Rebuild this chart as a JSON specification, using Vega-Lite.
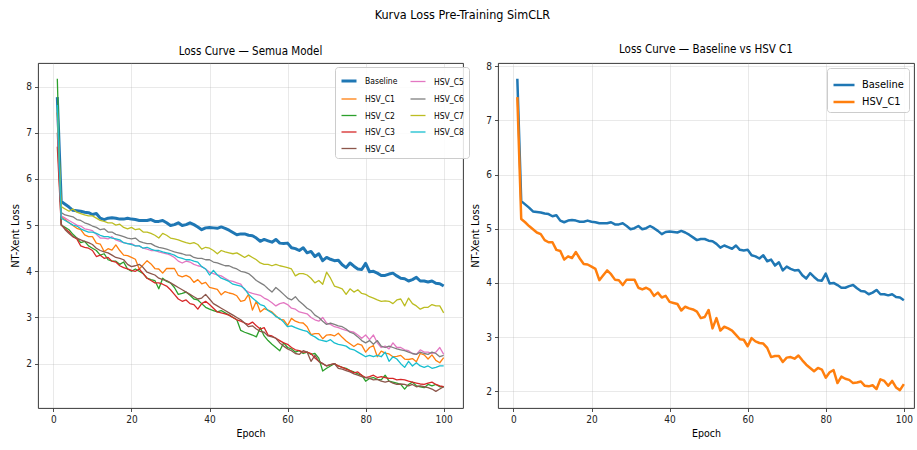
{
  "$schema": "https://vega.github.io/schema/vega-lite/v6.json",
  "padding": {"left": 10, "top": 8, "right": 0, "bottom": 2},
  "title": {"text": "Kurva Loss Pre-Training SimCLR", "fontSize": 12.5, "fontWeight": "normal", "anchor": "middle", "offset": 22, "color": "#000"},
  "bounds": "flush",
  "spacing": 35,
  "resolve": {"scale": {"color": "independent", "strokeWidth": "independent"}, "legend": {"color": "independent", "strokeWidth": "independent"}},
  "config": {
    "font": "DejaVu Sans Condensed, Liberation Sans Narrow, DejaVu Sans",
    "view": {"stroke": "#222", "strokeWidth": 0.9},
    "axis": {"labelFontSize": 10, "labelColor": "#222", "tickColor": "#222", "tickSize": 3.5, "tickWidth": 0.8, "domain": false, "gridColor": "#b0b0b0", "gridOpacity": 0.35, "gridWidth": 0.8, "titleFontSize": 10.5, "titleFontWeight": "normal", "titleColor": "#000", "labelPadding": 3},
    "axisY": {"titleFont": "DejaVu Sans", "titleFontSize": 10, "titlePadding": 5},
    "axisX": {"titlePadding": 4},
    "title": {"fontSize": 11.5, "fontWeight": "normal", "color": "#000", "offset": 6}
  },
  "datasets": {
    "loss": [
      {"epoch":1,"Baseline":7.77,"HSV_C1":7.43,"HSV_C2":8.17,"HSV_C3":6.70,"HSV_C4":7.00,"HSV_C5":7.30,"HSV_C6":7.45,"HSV_C7":7.55,"HSV_C8":7.60},
      {"epoch":2,"Baseline":5.51,"HSV_C1":5.18,"HSV_C2":5.00,"HSV_C3":5.00,"HSV_C4":5.02,"HSV_C5":5.20,"HSV_C6":5.27,"HSV_C7":5.40,"HSV_C8":5.15},
      {"epoch":3,"Baseline":5.45,"HSV_C1":5.12,"HSV_C2":4.95,"HSV_C3":4.92,"HSV_C4":4.90,"HSV_C5":5.15,"HSV_C6":5.22,"HSV_C7":5.35,"HSV_C8":5.10},
      {"epoch":4,"Baseline":5.39,"HSV_C1":5.05,"HSV_C2":4.90,"HSV_C3":4.85,"HSV_C4":4.82,"HSV_C5":5.10,"HSV_C6":5.20,"HSV_C7":5.30,"HSV_C8":5.05},
      {"epoch":5,"Baseline":5.32,"HSV_C1":4.99,"HSV_C2":4.80,"HSV_C3":4.75,"HSV_C4":4.75,"HSV_C5":5.05,"HSV_C6":5.18,"HSV_C7":5.35,"HSV_C8":5.00},
      {"epoch":6,"Baseline":5.31,"HSV_C1":4.93,"HSV_C2":4.72,"HSV_C3":4.70,"HSV_C4":4.72,"HSV_C5":5.00,"HSV_C6":5.12,"HSV_C7":5.28,"HSV_C8":4.98},
      {"epoch":7,"Baseline":5.30,"HSV_C1":4.90,"HSV_C2":4.62,"HSV_C3":4.55,"HSV_C4":4.68,"HSV_C5":4.98,"HSV_C6":5.10,"HSV_C7":5.25,"HSV_C8":4.92},
      {"epoch":8,"Baseline":5.28,"HSV_C1":4.79,"HSV_C2":4.65,"HSV_C3":4.52,"HSV_C4":4.65,"HSV_C5":4.92,"HSV_C6":5.05,"HSV_C7":5.22,"HSV_C8":4.88},
      {"epoch":9,"Baseline":5.27,"HSV_C1":4.75,"HSV_C2":4.55,"HSV_C3":4.50,"HSV_C4":4.62,"HSV_C5":4.90,"HSV_C6":5.02,"HSV_C7":5.20,"HSV_C8":4.85},
      {"epoch":10,"Baseline":5.23,"HSV_C1":4.75,"HSV_C2":4.50,"HSV_C3":4.45,"HSV_C4":4.58,"HSV_C5":4.88,"HSV_C6":4.98,"HSV_C7":5.20,"HSV_C8":4.85},
      {"epoch":11,"Baseline":5.25,"HSV_C1":4.61,"HSV_C2":4.45,"HSV_C3":4.32,"HSV_C4":4.50,"HSV_C5":4.80,"HSV_C6":4.95,"HSV_C7":5.15,"HSV_C8":4.82},
      {"epoch":12,"Baseline":5.15,"HSV_C1":4.59,"HSV_C2":4.35,"HSV_C3":4.35,"HSV_C4":4.45,"HSV_C5":4.72,"HSV_C6":4.90,"HSV_C7":5.10,"HSV_C8":4.78},
      {"epoch":13,"Baseline":5.12,"HSV_C1":4.43,"HSV_C2":4.38,"HSV_C3":4.28,"HSV_C4":4.42,"HSV_C5":4.72,"HSV_C6":4.92,"HSV_C7":5.08,"HSV_C8":4.75},
      {"epoch":14,"Baseline":5.15,"HSV_C1":4.49,"HSV_C2":4.25,"HSV_C3":4.30,"HSV_C4":4.40,"HSV_C5":4.70,"HSV_C6":4.85,"HSV_C7":5.05,"HSV_C8":4.75},
      {"epoch":15,"Baseline":5.16,"HSV_C1":4.46,"HSV_C2":4.22,"HSV_C3":4.22,"HSV_C4":4.35,"HSV_C5":4.75,"HSV_C6":4.85,"HSV_C7":5.05,"HSV_C8":4.72},
      {"epoch":16,"Baseline":5.15,"HSV_C1":4.57,"HSV_C2":4.22,"HSV_C3":4.20,"HSV_C4":4.30,"HSV_C5":4.68,"HSV_C6":4.80,"HSV_C7":5.00,"HSV_C8":4.70},
      {"epoch":17,"Baseline":5.13,"HSV_C1":4.45,"HSV_C2":4.15,"HSV_C3":4.12,"HSV_C4":4.28,"HSV_C5":4.65,"HSV_C6":4.78,"HSV_C7":5.02,"HSV_C8":4.68},
      {"epoch":18,"Baseline":5.13,"HSV_C1":4.35,"HSV_C2":4.20,"HSV_C3":4.08,"HSV_C4":4.25,"HSV_C5":4.62,"HSV_C6":4.75,"HSV_C7":4.95,"HSV_C8":4.62},
      {"epoch":19,"Baseline":5.15,"HSV_C1":4.34,"HSV_C2":4.05,"HSV_C3":4.05,"HSV_C4":4.15,"HSV_C5":4.60,"HSV_C6":4.72,"HSV_C7":4.92,"HSV_C8":4.60},
      {"epoch":20,"Baseline":5.13,"HSV_C1":4.30,"HSV_C2":4.00,"HSV_C3":4.02,"HSV_C4":4.10,"HSV_C5":4.60,"HSV_C6":4.70,"HSV_C7":4.95,"HSV_C8":4.58},
      {"epoch":21,"Baseline":5.12,"HSV_C1":4.26,"HSV_C2":4.05,"HSV_C3":4.00,"HSV_C4":4.12,"HSV_C5":4.55,"HSV_C6":4.72,"HSV_C7":4.90,"HSV_C8":4.55},
      {"epoch":22,"Baseline":5.10,"HSV_C1":4.05,"HSV_C2":4.00,"HSV_C3":4.05,"HSV_C4":4.15,"HSV_C5":4.55,"HSV_C6":4.65,"HSV_C7":4.92,"HSV_C8":4.55},
      {"epoch":23,"Baseline":5.10,"HSV_C1":4.14,"HSV_C2":3.95,"HSV_C3":3.95,"HSV_C4":4.08,"HSV_C5":4.50,"HSV_C6":4.62,"HSV_C7":4.85,"HSV_C8":4.50},
      {"epoch":24,"Baseline":5.10,"HSV_C1":4.23,"HSV_C2":3.85,"HSV_C3":3.85,"HSV_C4":3.98,"HSV_C5":4.48,"HSV_C6":4.60,"HSV_C7":4.85,"HSV_C8":4.52},
      {"epoch":25,"Baseline":5.12,"HSV_C1":4.16,"HSV_C2":3.82,"HSV_C3":3.80,"HSV_C4":3.95,"HSV_C5":4.45,"HSV_C6":4.60,"HSV_C7":4.82,"HSV_C8":4.48},
      {"epoch":26,"Baseline":5.08,"HSV_C1":4.06,"HSV_C2":3.80,"HSV_C3":3.75,"HSV_C4":3.92,"HSV_C5":4.45,"HSV_C6":4.55,"HSV_C7":4.78,"HSV_C8":4.45},
      {"epoch":27,"Baseline":5.08,"HSV_C1":4.05,"HSV_C2":3.62,"HSV_C3":3.75,"HSV_C4":3.85,"HSV_C5":4.42,"HSV_C6":4.52,"HSV_C7":4.72,"HSV_C8":4.45},
      {"epoch":28,"Baseline":5.10,"HSV_C1":3.96,"HSV_C2":3.85,"HSV_C3":3.72,"HSV_C4":3.82,"HSV_C5":4.40,"HSV_C6":4.50,"HSV_C7":4.82,"HSV_C8":4.42},
      {"epoch":29,"Baseline":5.05,"HSV_C1":4.06,"HSV_C2":3.78,"HSV_C3":3.68,"HSV_C4":3.80,"HSV_C5":4.38,"HSV_C6":4.48,"HSV_C7":4.78,"HSV_C8":4.40},
      {"epoch":30,"Baseline":4.99,"HSV_C1":4.06,"HSV_C2":3.75,"HSV_C3":3.60,"HSV_C4":3.75,"HSV_C5":4.35,"HSV_C6":4.45,"HSV_C7":4.72,"HSV_C8":4.38},
      {"epoch":31,"Baseline":5.01,"HSV_C1":4.06,"HSV_C2":3.65,"HSV_C3":3.50,"HSV_C4":3.70,"HSV_C5":4.30,"HSV_C6":4.42,"HSV_C7":4.70,"HSV_C8":4.35},
      {"epoch":32,"Baseline":5.05,"HSV_C1":3.91,"HSV_C2":3.50,"HSV_C3":3.40,"HSV_C4":3.65,"HSV_C5":4.22,"HSV_C6":4.40,"HSV_C7":4.68,"HSV_C8":4.30},
      {"epoch":33,"Baseline":4.99,"HSV_C1":3.88,"HSV_C2":3.52,"HSV_C3":3.35,"HSV_C4":3.60,"HSV_C5":4.18,"HSV_C6":4.38,"HSV_C7":4.65,"HSV_C8":4.28},
      {"epoch":34,"Baseline":5.01,"HSV_C1":3.91,"HSV_C2":3.55,"HSV_C3":3.38,"HSV_C4":3.55,"HSV_C5":4.22,"HSV_C6":4.35,"HSV_C7":4.62,"HSV_C8":4.25},
      {"epoch":35,"Baseline":5.05,"HSV_C1":3.87,"HSV_C2":3.48,"HSV_C3":3.30,"HSV_C4":3.50,"HSV_C5":4.20,"HSV_C6":4.35,"HSV_C7":4.60,"HSV_C8":4.25},
      {"epoch":36,"Baseline":5.01,"HSV_C1":3.76,"HSV_C2":3.40,"HSV_C3":3.28,"HSV_C4":3.45,"HSV_C5":4.15,"HSV_C6":4.30,"HSV_C7":4.62,"HSV_C8":4.22},
      {"epoch":37,"Baseline":4.96,"HSV_C1":3.82,"HSV_C2":3.38,"HSV_C3":3.18,"HSV_C4":3.40,"HSV_C5":4.12,"HSV_C6":4.28,"HSV_C7":4.58,"HSV_C8":4.20},
      {"epoch":38,"Baseline":4.90,"HSV_C1":3.73,"HSV_C2":3.30,"HSV_C3":3.30,"HSV_C4":3.42,"HSV_C5":4.10,"HSV_C6":4.28,"HSV_C7":4.48,"HSV_C8":4.10},
      {"epoch":39,"Baseline":4.94,"HSV_C1":3.76,"HSV_C2":3.22,"HSV_C3":3.35,"HSV_C4":3.50,"HSV_C5":4.05,"HSV_C6":4.25,"HSV_C7":4.52,"HSV_C8":4.05},
      {"epoch":40,"Baseline":4.95,"HSV_C1":3.65,"HSV_C2":3.18,"HSV_C3":3.28,"HSV_C4":3.40,"HSV_C5":3.98,"HSV_C6":4.25,"HSV_C7":4.50,"HSV_C8":3.92},
      {"epoch":41,"Baseline":4.94,"HSV_C1":3.63,"HSV_C2":3.15,"HSV_C3":3.20,"HSV_C4":3.30,"HSV_C5":3.95,"HSV_C6":4.20,"HSV_C7":4.45,"HSV_C8":4.02},
      {"epoch":42,"Baseline":4.93,"HSV_C1":3.61,"HSV_C2":3.12,"HSV_C3":3.12,"HSV_C4":3.25,"HSV_C5":3.92,"HSV_C6":4.18,"HSV_C7":4.38,"HSV_C8":3.92},
      {"epoch":43,"Baseline":4.96,"HSV_C1":3.49,"HSV_C2":3.15,"HSV_C3":3.10,"HSV_C4":3.20,"HSV_C5":3.90,"HSV_C6":4.15,"HSV_C7":4.45,"HSV_C8":3.85},
      {"epoch":44,"Baseline":4.93,"HSV_C1":3.56,"HSV_C2":3.10,"HSV_C3":3.08,"HSV_C4":3.15,"HSV_C5":3.85,"HSV_C6":4.12,"HSV_C7":4.42,"HSV_C8":3.82},
      {"epoch":45,"Baseline":4.89,"HSV_C1":3.53,"HSV_C2":3.05,"HSV_C3":3.05,"HSV_C4":3.10,"HSV_C5":3.80,"HSV_C6":4.12,"HSV_C7":4.40,"HSV_C8":3.78},
      {"epoch":46,"Baseline":4.84,"HSV_C1":3.51,"HSV_C2":3.00,"HSV_C3":3.00,"HSV_C4":3.05,"HSV_C5":3.78,"HSV_C6":4.08,"HSV_C7":4.38,"HSV_C8":3.72},
      {"epoch":47,"Baseline":4.79,"HSV_C1":3.47,"HSV_C2":2.95,"HSV_C3":2.95,"HSV_C4":3.00,"HSV_C5":3.75,"HSV_C6":4.05,"HSV_C7":4.40,"HSV_C8":3.70},
      {"epoch":48,"Baseline":4.81,"HSV_C1":3.35,"HSV_C2":2.72,"HSV_C3":2.92,"HSV_C4":2.95,"HSV_C5":3.72,"HSV_C6":4.00,"HSV_C7":4.35,"HSV_C8":3.68},
      {"epoch":49,"Baseline":4.81,"HSV_C1":3.37,"HSV_C2":2.68,"HSV_C3":2.88,"HSV_C4":2.88,"HSV_C5":3.60,"HSV_C6":3.98,"HSV_C7":4.30,"HSV_C8":3.62},
      {"epoch":50,"Baseline":4.78,"HSV_C1":3.50,"HSV_C2":2.65,"HSV_C3":2.85,"HSV_C4":2.80,"HSV_C5":3.55,"HSV_C6":3.95,"HSV_C7":4.35,"HSV_C8":3.50},
      {"epoch":51,"Baseline":4.77,"HSV_C1":3.16,"HSV_C2":2.62,"HSV_C3":2.90,"HSV_C4":2.82,"HSV_C5":3.52,"HSV_C6":3.88,"HSV_C7":4.30,"HSV_C8":3.42},
      {"epoch":52,"Baseline":4.72,"HSV_C1":3.35,"HSV_C2":2.58,"HSV_C3":2.82,"HSV_C4":2.75,"HSV_C5":3.50,"HSV_C6":3.80,"HSV_C7":4.25,"HSV_C8":3.35},
      {"epoch":53,"Baseline":4.65,"HSV_C1":3.12,"HSV_C2":2.78,"HSV_C3":2.75,"HSV_C4":2.70,"HSV_C5":3.48,"HSV_C6":3.75,"HSV_C7":4.18,"HSV_C8":3.28},
      {"epoch":54,"Baseline":4.69,"HSV_C1":3.19,"HSV_C2":2.60,"HSV_C3":2.78,"HSV_C4":2.68,"HSV_C5":3.42,"HSV_C6":3.70,"HSV_C7":4.15,"HSV_C8":3.25},
      {"epoch":55,"Baseline":4.66,"HSV_C1":3.16,"HSV_C2":2.50,"HSV_C3":2.62,"HSV_C4":2.60,"HSV_C5":3.38,"HSV_C6":3.62,"HSV_C7":4.15,"HSV_C8":3.15},
      {"epoch":56,"Baseline":4.63,"HSV_C1":3.12,"HSV_C2":2.42,"HSV_C3":2.60,"HSV_C4":2.58,"HSV_C5":3.32,"HSV_C6":3.55,"HSV_C7":4.12,"HSV_C8":3.10},
      {"epoch":57,"Baseline":4.69,"HSV_C1":3.04,"HSV_C2":2.35,"HSV_C3":2.55,"HSV_C4":2.55,"HSV_C5":3.25,"HSV_C6":3.65,"HSV_C7":4.15,"HSV_C8":3.02},
      {"epoch":58,"Baseline":4.61,"HSV_C1":2.96,"HSV_C2":2.28,"HSV_C3":2.50,"HSV_C4":2.45,"HSV_C5":3.30,"HSV_C6":3.58,"HSV_C7":4.12,"HSV_C8":2.98},
      {"epoch":59,"Baseline":4.60,"HSV_C1":2.95,"HSV_C2":2.45,"HSV_C3":2.45,"HSV_C4":2.38,"HSV_C5":3.32,"HSV_C6":3.50,"HSV_C7":4.10,"HSV_C8":2.90},
      {"epoch":60,"Baseline":4.61,"HSV_C1":2.83,"HSV_C2":2.35,"HSV_C3":2.42,"HSV_C4":2.32,"HSV_C5":3.28,"HSV_C6":3.42,"HSV_C7":4.08,"HSV_C8":2.80},
      {"epoch":61,"Baseline":4.51,"HSV_C1":2.98,"HSV_C2":2.32,"HSV_C3":2.35,"HSV_C4":2.28,"HSV_C5":3.20,"HSV_C6":3.38,"HSV_C7":4.05,"HSV_C8":2.82},
      {"epoch":62,"Baseline":4.49,"HSV_C1":2.92,"HSV_C2":2.25,"HSV_C3":2.30,"HSV_C4":2.22,"HSV_C5":3.18,"HSV_C6":3.45,"HSV_C7":3.90,"HSV_C8":2.78},
      {"epoch":63,"Baseline":4.45,"HSV_C1":2.89,"HSV_C2":2.28,"HSV_C3":2.28,"HSV_C4":2.20,"HSV_C5":3.12,"HSV_C6":3.35,"HSV_C7":3.95,"HSV_C8":2.75},
      {"epoch":64,"Baseline":4.51,"HSV_C1":2.88,"HSV_C2":2.22,"HSV_C3":2.25,"HSV_C4":2.28,"HSV_C5":3.10,"HSV_C6":3.28,"HSV_C7":3.95,"HSV_C8":2.72},
      {"epoch":65,"Baseline":4.40,"HSV_C1":2.80,"HSV_C2":2.25,"HSV_C3":2.25,"HSV_C4":2.25,"HSV_C5":3.08,"HSV_C6":3.20,"HSV_C7":3.92,"HSV_C8":2.70},
      {"epoch":66,"Baseline":4.43,"HSV_C1":2.63,"HSV_C2":2.20,"HSV_C3":2.22,"HSV_C4":2.05,"HSV_C5":3.00,"HSV_C6":3.15,"HSV_C7":3.85,"HSV_C8":2.62},
      {"epoch":67,"Baseline":4.32,"HSV_C1":2.65,"HSV_C2":2.22,"HSV_C3":2.12,"HSV_C4":2.18,"HSV_C5":2.95,"HSV_C6":3.05,"HSV_C7":3.75,"HSV_C8":2.58},
      {"epoch":68,"Baseline":4.38,"HSV_C1":2.65,"HSV_C2":2.12,"HSV_C3":2.05,"HSV_C4":2.05,"HSV_C5":2.92,"HSV_C6":3.00,"HSV_C7":3.80,"HSV_C8":2.52},
      {"epoch":69,"Baseline":4.23,"HSV_C1":2.54,"HSV_C2":1.84,"HSV_C3":2.00,"HSV_C4":2.00,"HSV_C5":3.00,"HSV_C6":2.92,"HSV_C7":3.72,"HSV_C8":2.50},
      {"epoch":70,"Baseline":4.30,"HSV_C1":2.62,"HSV_C2":1.90,"HSV_C3":1.95,"HSV_C4":1.95,"HSV_C5":2.88,"HSV_C6":2.85,"HSV_C7":3.98,"HSV_C8":2.48},
      {"epoch":71,"Baseline":4.26,"HSV_C1":2.63,"HSV_C2":1.95,"HSV_C3":1.98,"HSV_C4":1.98,"HSV_C5":2.85,"HSV_C6":2.88,"HSV_C7":3.85,"HSV_C8":2.52},
      {"epoch":72,"Baseline":4.23,"HSV_C1":2.60,"HSV_C2":2.00,"HSV_C3":2.00,"HSV_C4":2.00,"HSV_C5":2.80,"HSV_C6":2.85,"HSV_C7":3.68,"HSV_C8":2.45},
      {"epoch":73,"Baseline":4.24,"HSV_C1":2.66,"HSV_C2":1.95,"HSV_C3":1.95,"HSV_C4":1.90,"HSV_C5":2.78,"HSV_C6":2.82,"HSV_C7":3.65,"HSV_C8":2.42},
      {"epoch":74,"Baseline":4.14,"HSV_C1":2.57,"HSV_C2":1.92,"HSV_C3":1.92,"HSV_C4":1.88,"HSV_C5":2.75,"HSV_C6":2.80,"HSV_C7":3.62,"HSV_C8":2.40},
      {"epoch":75,"Baseline":4.08,"HSV_C1":2.49,"HSV_C2":1.90,"HSV_C3":1.88,"HSV_C4":1.85,"HSV_C5":2.72,"HSV_C6":2.75,"HSV_C7":3.50,"HSV_C8":2.38},
      {"epoch":76,"Baseline":4.18,"HSV_C1":2.43,"HSV_C2":1.85,"HSV_C3":1.85,"HSV_C4":1.82,"HSV_C5":2.70,"HSV_C6":2.68,"HSV_C7":3.62,"HSV_C8":2.32},
      {"epoch":77,"Baseline":4.11,"HSV_C1":2.37,"HSV_C2":1.82,"HSV_C3":1.80,"HSV_C4":1.78,"HSV_C5":2.68,"HSV_C6":2.65,"HSV_C7":3.55,"HSV_C8":2.30},
      {"epoch":78,"Baseline":4.05,"HSV_C1":2.43,"HSV_C2":1.78,"HSV_C3":1.82,"HSV_C4":1.75,"HSV_C5":2.62,"HSV_C6":2.58,"HSV_C7":3.60,"HSV_C8":2.25},
      {"epoch":79,"Baseline":4.04,"HSV_C1":2.40,"HSV_C2":1.75,"HSV_C3":1.75,"HSV_C4":1.72,"HSV_C5":2.55,"HSV_C6":2.50,"HSV_C7":3.52,"HSV_C8":2.20},
      {"epoch":80,"Baseline":4.17,"HSV_C1":2.25,"HSV_C2":1.62,"HSV_C3":1.70,"HSV_C4":1.70,"HSV_C5":2.62,"HSV_C6":2.45,"HSV_C7":3.50,"HSV_C8":2.15},
      {"epoch":81,"Baseline":3.99,"HSV_C1":2.35,"HSV_C2":1.68,"HSV_C3":1.72,"HSV_C4":1.68,"HSV_C5":2.52,"HSV_C6":2.50,"HSV_C7":3.45,"HSV_C8":2.18},
      {"epoch":82,"Baseline":4.00,"HSV_C1":2.39,"HSV_C2":1.70,"HSV_C3":1.75,"HSV_C4":1.65,"HSV_C5":2.62,"HSV_C6":2.42,"HSV_C7":3.42,"HSV_C8":2.15},
      {"epoch":83,"Baseline":3.96,"HSV_C1":2.15,"HSV_C2":1.66,"HSV_C3":1.70,"HSV_C4":1.66,"HSV_C5":2.45,"HSV_C6":2.50,"HSV_C7":3.38,"HSV_C8":2.18},
      {"epoch":84,"Baseline":3.91,"HSV_C1":2.27,"HSV_C2":1.65,"HSV_C3":1.72,"HSV_C4":1.62,"HSV_C5":2.35,"HSV_C6":2.38,"HSV_C7":3.35,"HSV_C8":2.15},
      {"epoch":85,"Baseline":3.91,"HSV_C1":2.23,"HSV_C2":1.75,"HSV_C3":1.70,"HSV_C4":1.60,"HSV_C5":2.38,"HSV_C6":2.35,"HSV_C7":3.36,"HSV_C8":2.25},
      {"epoch":86,"Baseline":3.94,"HSV_C1":2.21,"HSV_C2":1.62,"HSV_C3":1.68,"HSV_C4":1.62,"HSV_C5":2.32,"HSV_C6":2.38,"HSV_C7":3.35,"HSV_C8":2.05},
      {"epoch":87,"Baseline":3.96,"HSV_C1":2.15,"HSV_C2":1.60,"HSV_C3":1.68,"HSV_C4":1.58,"HSV_C5":2.45,"HSV_C6":2.35,"HSV_C7":3.30,"HSV_C8":2.15},
      {"epoch":88,"Baseline":3.90,"HSV_C1":2.16,"HSV_C2":1.58,"HSV_C3":1.65,"HSV_C4":1.55,"HSV_C5":2.35,"HSV_C6":2.32,"HSV_C7":3.38,"HSV_C8":2.10},
      {"epoch":89,"Baseline":3.85,"HSV_C1":2.18,"HSV_C2":1.55,"HSV_C3":1.66,"HSV_C4":1.56,"HSV_C5":2.35,"HSV_C6":2.30,"HSV_C7":3.40,"HSV_C8":2.00},
      {"epoch":90,"Baseline":3.84,"HSV_C1":2.10,"HSV_C2":1.45,"HSV_C3":1.65,"HSV_C4":1.55,"HSV_C5":2.30,"HSV_C6":2.28,"HSV_C7":3.25,"HSV_C8":1.92},
      {"epoch":91,"Baseline":3.79,"HSV_C1":2.09,"HSV_C2":1.55,"HSV_C3":1.62,"HSV_C4":1.52,"HSV_C5":2.28,"HSV_C6":2.25,"HSV_C7":3.42,"HSV_C8":2.05},
      {"epoch":92,"Baseline":3.82,"HSV_C1":2.11,"HSV_C2":1.60,"HSV_C3":1.60,"HSV_C4":1.55,"HSV_C5":2.22,"HSV_C6":2.22,"HSV_C7":3.30,"HSV_C8":1.95},
      {"epoch":93,"Baseline":3.87,"HSV_C1":2.04,"HSV_C2":1.52,"HSV_C3":1.58,"HSV_C4":1.50,"HSV_C5":2.20,"HSV_C6":2.20,"HSV_C7":3.25,"HSV_C8":2.02},
      {"epoch":94,"Baseline":3.79,"HSV_C1":2.22,"HSV_C2":1.50,"HSV_C3":1.56,"HSV_C4":1.52,"HSV_C5":2.30,"HSV_C6":2.25,"HSV_C7":3.18,"HSV_C8":1.95},
      {"epoch":95,"Baseline":3.79,"HSV_C1":2.19,"HSV_C2":1.48,"HSV_C3":1.55,"HSV_C4":1.50,"HSV_C5":2.25,"HSV_C6":2.22,"HSV_C7":3.22,"HSV_C8":1.92},
      {"epoch":96,"Baseline":3.77,"HSV_C1":2.10,"HSV_C2":1.55,"HSV_C3":1.58,"HSV_C4":1.48,"HSV_C5":2.25,"HSV_C6":2.20,"HSV_C7":3.22,"HSV_C8":1.95},
      {"epoch":97,"Baseline":3.79,"HSV_C1":2.19,"HSV_C2":1.52,"HSV_C3":1.60,"HSV_C4":1.45,"HSV_C5":2.22,"HSV_C6":2.25,"HSV_C7":3.28,"HSV_C8":1.90},
      {"epoch":98,"Baseline":3.74,"HSV_C1":2.07,"HSV_C2":1.55,"HSV_C3":1.55,"HSV_C4":1.40,"HSV_C5":2.25,"HSV_C6":2.22,"HSV_C7":3.25,"HSV_C8":1.92},
      {"epoch":99,"Baseline":3.73,"HSV_C1":2.02,"HSV_C2":1.50,"HSV_C3":1.52,"HSV_C4":1.45,"HSV_C5":2.35,"HSV_C6":2.15,"HSV_C7":3.25,"HSV_C8":1.95},
      {"epoch":100,"Baseline":3.68,"HSV_C1":2.13,"HSV_C2":1.50,"HSV_C3":1.50,"HSV_C4":1.50,"HSV_C5":2.20,"HSV_C6":2.18,"HSV_C7":3.10,"HSV_C8":1.95}
    ]
  },
  "hconcat": [
    {
      "title": {"text": "Loss Curve — Semua Model"},
      "width": 425,
      "height": 345,
      "data": {"name": "loss"},
      "transform": [{"fold": ["Baseline","HSV_C1","HSV_C2","HSV_C3","HSV_C4","HSV_C5","HSV_C6","HSV_C7","HSV_C8"], "as": ["model","loss"]}],
      "mark": {"type": "line", "strokeJoin": "round", "clip": true},
      "encoding": {
        "x": {"field": "epoch", "type": "quantitative", "scale": {"domain": [-3.95, 104.95], "nice": false, "zero": false}, "axis": {"values": [0,20,40,60,80,100], "title": "Epoch"}},
        "y": {"field": "loss", "type": "quantitative", "scale": {"domain": [1.04, 8.51], "nice": false, "zero": false}, "axis": {"values": [2,3,4,5,6,7,8], "title": "NT-Xent Loss"}},
        "color": {"field": "model", "type": "nominal",
          "scale": {"domain": ["Baseline","HSV_C1","HSV_C2","HSV_C3","HSV_C4","HSV_C5","HSV_C6","HSV_C7","HSV_C8"], "range": ["#1f77b4","#ff7f0e","#2ca02c","#d62728","#8c564b","#e377c2","#7f7f7f","#bcbd22","#17becf"]},
          "legend": {"title": null, "orient": "none", "legendX": 297, "legendY": 4, "columns": 2, "symbolType": "stroke", "symbolSize": 225, "labelFontSize": 8.5, "labelColor": "#000", "fillColor": "rgba(255,255,255,0.85)", "strokeColor": "#cccccc", "cornerRadius": 3, "padding": 5, "rowPadding": 3.5, "columnPadding": 9, "labelOffset": 7}},
        "strokeWidth": {"field": "model", "type": "nominal",
          "scale": {"type": "ordinal", "domain": ["Baseline","HSV_C1","HSV_C2","HSV_C3","HSV_C4","HSV_C5","HSV_C6","HSV_C7","HSV_C8"], "range": [3,1.3,1.3,1.3,1.3,1.3,1.3,1.3,1.3]},
          "legend": {"title": null, "orient": "none", "legendX": 297, "legendY": 4, "columns": 2, "symbolType": "stroke", "symbolSize": 225, "labelFontSize": 8.5, "labelColor": "#000", "fillColor": "rgba(255,255,255,0.85)", "strokeColor": "#cccccc", "cornerRadius": 3, "padding": 5, "rowPadding": 3.5, "columnPadding": 9, "labelOffset": 7}}
      }
    },
    {
      "title": {"text": "Loss Curve — Baseline vs HSV C1"},
      "width": 416,
      "height": 345,
      "data": {"name": "loss"},
      "transform": [{"fold": ["Baseline","HSV_C1"], "as": ["model","loss"]}],
      "mark": {"type": "line", "strokeJoin": "round", "strokeWidth": 2.5, "clip": true},
      "encoding": {
        "x": {"field": "epoch", "type": "quantitative", "scale": {"domain": [-3.95, 102.6], "nice": false, "zero": false}, "axis": {"values": [0,20,40,60,80,100], "title": "Epoch"}},
        "y": {"field": "loss", "type": "quantitative", "scale": {"domain": [1.69, 8.06], "nice": false, "zero": false}, "axis": {"values": [2,3,4,5,6,7,8], "title": "NT-Xent Loss"}},
        "color": {"field": "model", "type": "nominal",
          "scale": {"domain": ["Baseline","HSV_C1"], "range": ["#1f77b4","#ff7f0e"]},
          "legend": {"title": null, "orient": "top-right", "offset": 5, "symbolType": "stroke", "symbolSize": 441, "symbolStrokeWidth": 2.5, "labelFontSize": 11, "labelColor": "#000", "fillColor": "rgba(255,255,255,0.85)", "strokeColor": "#cccccc", "cornerRadius": 3, "padding": 5, "rowPadding": 0, "labelOffset": 6}}
      }
    }
  ]
}
